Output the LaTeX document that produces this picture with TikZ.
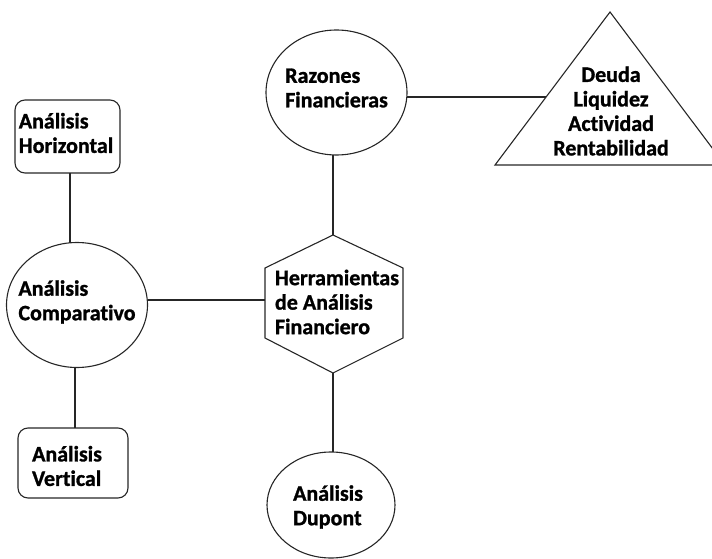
\documentclass[tikz,border=0pt]{standalone}
\usepackage{fontspec}
\setmainfont{Carlito}[Ligatures=NoCommon, BoldFeatures={FakeBold=1.2}]
\usetikzlibrary{shapes.geometric}
\begin{document}
\begin{tikzpicture}[x=1pt,y=-1pt,
  every node/.style={font=\bfseries\fontsize{22}{24.5}\selectfont, align=left, inner sep=0pt, outer sep=0pt},
  ln/.style={line width=1.1pt, draw=black!85},
  box/.style={ln, rounded corners=10pt, rectangle},
  oval/.style={ln, ellipse},
  txt/.style={}
]
\useasboundingbox (0,0) rectangle (712,559);
\begin{scope}
\clip (0,0) rectangle (712,559);
% nodes
\node[box, minimum width=105pt, minimum height=73pt] (hor) at (67.5,136.5) {};
\node[txt] (hort) at (66,133) {Análisis\\Horizontal};
\node[oval, minimum width=141pt, minimum height=125pt] (comp) at (77,305) {};
\node[txt] (compt) at (77,302) {Análisis\\Comparativo};
\node[box, minimum width=110pt, minimum height=70pt] (ver) at (73,463) {};
\node[txt] (vert) at (67,466) {Análisis\\Vertical};
\node[oval, minimum width=141pt, minimum height=125pt] (raz) at (336.5,92.5) {};
\node[txt] (razt) at (336.5,88) {Razones\\Financieras};
\node[oval, minimum width=128pt, minimum height=106pt] (dup) at (331,505) {};
\node[txt] (dupt) at (328,507) {Análisis\\Dupont};
% hexagon
\coordinate (htop) at (333,235);
\coordinate (hur) at (403,268);
\coordinate (hlr) at (403,338);
\coordinate (hbot) at (333,373);
\coordinate (hll) at (265,338);
\coordinate (hul) at (265,268);
\coordinate (hleft) at (265,300);
\draw[ln] (htop) -- (hur) -- (hlr) -- (hbot) -- (hll) -- (hul) -- cycle;
\node[txt] (herr) at (337,302) {Herramientas\\de Análisis\\Financiero};
% triangle
\coordinate (tapex) at (610,12);
\coordinate (tbl) at (495,165);
\coordinate (tbr) at (725,165);
\coordinate (tl) at (546,97);
\draw[ln] (tapex) -- (tbl) -- (tbr) -- cycle;
\node[txt, align=center] (tri) at (611,111) {Deuda\\Liquidez\\Actividad\\Rentabilidad};
% connectors
\coordinate (hx) at (70,0);
\coordinate (vx) at (75,0);
\draw[ln] (hor.south -| hx) -- (comp.north -| hx);
\draw[ln] (comp.south -| vx) -- (ver.north -| vx);
\draw[ln] (comp.east |- hleft) -- (hleft);
\draw[ln] (htop |- raz.south) -- (htop);
\draw[ln] (hbot) -- (hbot |- dup.north);
\draw[ln] (raz.east |- tl) -- (tl);
\end{scope}
\end{tikzpicture}
\end{document}
